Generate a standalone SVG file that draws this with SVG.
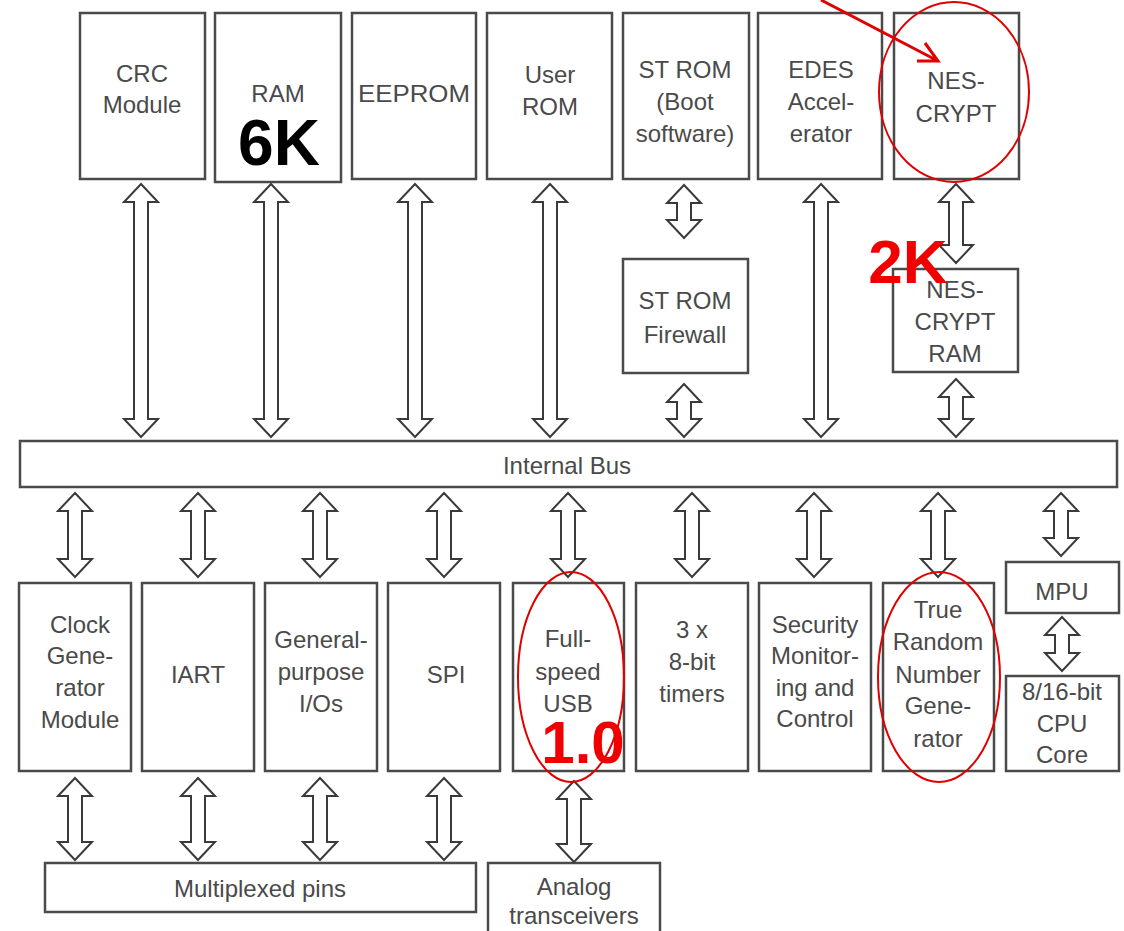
<svg xmlns="http://www.w3.org/2000/svg" width="1124" height="931" viewBox="0 0 1124 931">
<style>
.box{fill:#fff;stroke:#4a4a4a;stroke-width:2.5}
.t{font-family:"Liberation Sans",Arial,sans-serif;font-size:24px;fill:#4a4a4a;text-anchor:middle}
.arr{fill:#fff;stroke:#3a3a3a;stroke-width:2}
.red{fill:none;stroke:#e00000;stroke-width:2}
.big{font-family:"Liberation Sans",Arial,sans-serif;font-weight:bold;text-anchor:middle}
</style>
<rect width="1124" height="931" fill="#fff"/>
<g id="crc"><rect class="box" x="80" y="13" width="125" height="166"/><text class="t" x="142" y="82">CRC</text><text class="t" x="142" y="113">Module</text></g>
<g id="ram"><rect class="box" x="215" y="13" width="126" height="169"/><text class="t" x="278" y="102">RAM</text></g>
<g id="eeprom"><rect class="box" x="352" y="13" width="124" height="166"/><text class="t" x="414" y="102" textLength="112" lengthAdjust="spacingAndGlyphs">EEPROM</text></g>
<g id="userrom"><rect class="box" x="487" y="13" width="125" height="166"/><text class="t" x="550" y="83">User</text><text class="t" x="550" y="115">ROM</text></g>
<g id="strom"><rect class="box" x="623" y="13" width="126" height="166"/><text class="t" x="685" y="78">ST ROM</text><text class="t" x="685" y="110">(Boot</text><text class="t" x="685" y="142">software)</text></g>
<g id="edes"><rect class="box" x="758" y="13" width="124" height="166"/><text class="t" x="821" y="78">EDES</text><text class="t" x="821" y="110">Accel-</text><text class="t" x="821" y="142">erator</text></g>
<g id="nescrypt"><rect class="box" x="894" y="13" width="125" height="166"/><text class="t" x="956" y="89">NES-</text><text class="t" x="956" y="122">CRYPT</text></g>
<g id="firewall"><rect class="box" x="623" y="259" width="125" height="114"/><text class="t" x="685" y="309">ST ROM</text><text class="t" x="685" y="343">Firewall</text></g>
<g id="nesram"><rect class="box" x="893" y="269" width="125" height="103"/><text class="t" x="955" y="298">NES-</text><text class="t" x="955" y="330">CRYPT</text><text class="t" x="955" y="362">RAM</text></g>
<g id="bus"><rect class="box" x="20" y="441" width="1097" height="46"/><text class="t" x="567" y="474">Internal Bus</text></g>
<g id="clock"><rect class="box" x="19" y="583" width="112" height="188"/><text class="t" x="80" y="633">Clock</text><text class="t" x="80" y="664">Gene-</text><text class="t" x="80" y="696">rator</text><text class="t" x="80" y="728">Module</text></g>
<g id="iart"><rect class="box" x="142" y="583" width="112" height="188"/><text class="t" x="198" y="683">IART</text></g>
<g id="gpio"><rect class="box" x="265" y="583" width="112" height="188"/><text class="t" x="321" y="648">General-</text><text class="t" x="321" y="680">purpose</text><text class="t" x="321" y="712">I/Os</text></g>
<g id="spi"><rect class="box" x="388" y="583" width="112" height="188"/><text class="t" x="446" y="683">SPI</text></g>
<g id="usb"><rect class="box" x="513" y="583" width="111" height="188"/><text class="t" x="568" y="647">Full-</text><text class="t" x="568" y="680">speed</text><text class="t" x="568" y="712">USB</text></g>
<g id="timers"><rect class="box" x="636" y="583" width="112" height="188"/><text class="t" x="692" y="638">3 x</text><text class="t" x="692" y="670">8-bit</text><text class="t" x="692" y="702">timers</text></g>
<g id="security"><rect class="box" x="759" y="583" width="112" height="188"/><text class="t" x="815" y="633">Security</text><text class="t" x="815" y="664">Monitor-</text><text class="t" x="815" y="696">ing and</text><text class="t" x="815" y="727">Control</text></g>
<g id="trng"><rect class="box" x="883" y="583" width="111" height="188"/><text class="t" x="938" y="618">True</text><text class="t" x="938" y="650">Random</text><text class="t" x="938" y="683">Number</text><text class="t" x="938" y="714">Gene-</text><text class="t" x="938" y="747">rator</text></g>
<g id="mpu"><rect class="box" x="1006" y="562" width="113" height="51"/><text class="t" x="1062" y="600">MPU</text></g>
<g id="cpu"><rect class="box" x="1006" y="676" width="113" height="95"/><text class="t" x="1062" y="700">8/16-bit</text><text class="t" x="1062" y="732">CPU</text><text class="t" x="1062" y="763">Core</text></g>
<g id="muxpins"><rect class="box" x="45" y="863" width="431" height="49"/><text class="t" x="260" y="897">Multiplexed pins</text></g>
<g id="analog"><rect class="box" x="488" y="863" width="172" height="80"/><text class="t" x="574" y="895">Analog</text><text class="t" x="574" y="924">transceivers</text></g>
<g id="connectors">
<path class="arr" d="M141,184 l17,18 h-10 v217 h10 l-17,18 l-17,-18 h10 v-217 h-10 z"/>
<path class="arr" d="M271,184 l17,18 h-10 v217 h10 l-17,18 l-17,-18 h10 v-217 h-10 z"/>
<path class="arr" d="M415,184 l17,18 h-10 v217 h10 l-17,18 l-17,-18 h10 v-217 h-10 z"/>
<path class="arr" d="M550,184 l17,18 h-10 v217 h10 l-17,18 l-17,-18 h10 v-217 h-10 z"/>
<path class="arr" d="M821,184 l17,18 h-10 v217 h10 l-17,18 l-17,-18 h10 v-217 h-10 z"/>
<path class="arr" d="M684,185 l17,18 h-10 v17 h10 l-17,18 l-17,-18 h10 v-17 h-10 z"/>
<path class="arr" d="M684,384 l17,18 h-10 v17 h10 l-17,18 l-17,-18 h10 v-17 h-10 z"/>
<path class="arr" d="M956,184 l17,18 h-10 v43 h10 l-17,18 l-17,-18 h10 v-43 h-10 z"/>
<path class="arr" d="M956,379 l17,18 h-10 v22 h10 l-17,18 l-17,-18 h10 v-22 h-10 z"/>
<path class="arr" d="M75,493 l17,18 h-10 v48 h10 l-17,18 l-17,-18 h10 v-48 h-10 z"/>
<path class="arr" d="M198,493 l17,18 h-10 v48 h10 l-17,18 l-17,-18 h10 v-48 h-10 z"/>
<path class="arr" d="M320,493 l17,18 h-10 v48 h10 l-17,18 l-17,-18 h10 v-48 h-10 z"/>
<path class="arr" d="M444,493 l17,18 h-10 v48 h10 l-17,18 l-17,-18 h10 v-48 h-10 z"/>
<path class="arr" d="M568,493 l17,18 h-10 v48 h10 l-17,18 l-17,-18 h10 v-48 h-10 z"/>
<path class="arr" d="M692,493 l17,18 h-10 v48 h10 l-17,18 l-17,-18 h10 v-48 h-10 z"/>
<path class="arr" d="M814,493 l17,18 h-10 v48 h10 l-17,18 l-17,-18 h10 v-48 h-10 z"/>
<path class="arr" d="M938,493 l17,18 h-10 v48 h10 l-17,18 l-17,-18 h10 v-48 h-10 z"/>
<path class="arr" d="M1061,493 l17,18 h-10 v27 h10 l-17,18 l-17,-18 h10 v-27 h-10 z"/>
<path class="arr" d="M1062,617 l17,18 h-10 v18 h10 l-17,18 l-17,-18 h10 v-18 h-10 z"/>
<path class="arr" d="M75,778 l17,18 h-10 v46 h10 l-17,18 l-17,-18 h10 v-46 h-10 z"/>
<path class="arr" d="M198,778 l17,18 h-10 v46 h10 l-17,18 l-17,-18 h10 v-46 h-10 z"/>
<path class="arr" d="M320,778 l17,18 h-10 v46 h10 l-17,18 l-17,-18 h10 v-46 h-10 z"/>
<path class="arr" d="M444,778 l17,18 h-10 v46 h10 l-17,18 l-17,-18 h10 v-46 h-10 z"/>
<path class="arr" d="M574,781 l17,18 h-10 v45 h10 l-17,18 l-17,-18 h10 v-45 h-10 z"/>
</g>
<g id="annotations">
<ellipse class="red" cx="954" cy="92" rx="75" ry="90"/>
<ellipse class="red" cx="571" cy="677" rx="53" ry="105"/>
<ellipse class="red" cx="939" cy="677" rx="61" ry="105"/>
<path d="M821,0 L938,61 M917,61 L938,61 L925,43" fill="none" stroke="#e00000" stroke-width="3"/>
<text class="big" x="279" y="165" font-size="64" fill="#000">6K</text>
<text class="big" x="908" y="283" font-size="62" fill="#f00000">2K</text>
<text class="big" x="583" y="763" font-size="60" fill="#f00000">1.0</text>
</g>
</svg>
